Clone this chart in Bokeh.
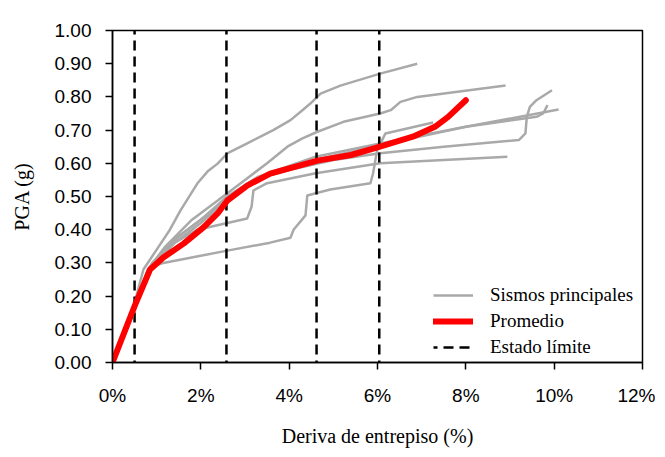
from bokeh.plotting import figure
from bokeh.models import (Range1d, FixedTicker, PrintfTickFormatter, Legend, LegendItem,
                          ColumnDataSource, LabelSet)
from bokeh.embed import file_html
from bokeh.resources import INLINE

# ---- data ----
gm_a_x = [0, 0.5, 0.7, 1.0, 1.3, 1.54, 1.92, 2.15, 2.38, 2.6, 3.05, 3.64, 4.03, 4.3, 4.48, 4.71, 5.16, 6.06, 6.9]
gm_a_y = [0, 0.18, 0.28, 0.34, 0.40, 0.458, 0.539, 0.575, 0.599, 0.63, 0.66, 0.70, 0.73, 0.76, 0.78, 0.81, 0.834, 0.87, 0.90]

gm_b_x = [0, 0.5, 0.8, 1.2, 1.8, 2.3, 2.6, 3.0, 3.5, 3.96, 4.3, 4.64, 5.23, 6.06, 6.3, 6.52, 6.9, 8.9]
gm_b_y = [0, 0.17, 0.28, 0.35, 0.43, 0.48, 0.51, 0.55, 0.60, 0.65, 0.675, 0.695, 0.725, 0.75, 0.76, 0.785, 0.80, 0.834]

gm_c_x = [0, 0.5, 0.85, 1.3, 2.0, 2.6, 3.2, 4.0, 5.0, 6.06, 7.5, 9.2, 9.35, 9.38, 9.45, 9.6, 9.95]
gm_c_y = [0, 0.17, 0.29, 0.36, 0.43, 0.50, 0.55, 0.58, 0.61, 0.63, 0.65, 0.67, 0.69, 0.74, 0.77, 0.79, 0.82]

gm_d_x = [0, 0.5, 0.85, 1.4, 2.0, 2.6, 3.0, 3.8, 4.6, 6.06, 8.0, 10.1]
gm_d_y = [0, 0.16, 0.28, 0.36, 0.42, 0.49, 0.53, 0.58, 0.61, 0.655, 0.71, 0.762]

gm_e_x = [0, 0.5, 0.9, 1.5, 2.2, 2.6, 3.3, 4.6, 6.06, 8.0, 9.6, 9.75, 9.85]
gm_e_y = [0, 0.17, 0.30, 0.38, 0.45, 0.50, 0.56, 0.62, 0.66, 0.71, 0.74, 0.75, 0.775]

gm_f_x = [0, 0.5, 0.86, 1.15, 2.6, 3.57, 4.03, 4.10, 4.37, 4.41, 4.93, 5.84, 5.9, 5.99, 6.18, 7.26]
gm_f_y = [0, 0.16, 0.286, 0.30, 0.337, 0.361, 0.376, 0.40, 0.443, 0.503, 0.521, 0.54, 0.57, 0.639, 0.69, 0.723]

gm_g_x = [0, 0.5, 0.9, 1.4, 1.92, 2.6, 3.05, 3.15, 3.19, 3.5, 4.6, 6.06, 8.94]
gm_g_y = [0, 0.16, 0.30, 0.36, 0.40, 0.42, 0.434, 0.47, 0.518, 0.54, 0.57, 0.60, 0.62]

avg_x = [0, 0.5, 0.85, 1.15, 1.61, 2.06, 2.38, 2.6, 3.05, 3.57, 4.64, 5.4, 6.0, 6.8, 7.3, 7.6, 8.0]
avg_y = [0, 0.17, 0.28, 0.316, 0.358, 0.407, 0.449, 0.488, 0.533, 0.569, 0.608, 0.625, 0.648, 0.68, 0.71, 0.74, 0.79]

limit_names = ["ND", "IO", "LS", "CP"]
limit_x = [0.5, 2.58, 4.62, 6.04]

x_ticks = [0, 2, 4, 6, 8, 10, 12]
y_ticks = [0, 0.1, 0.2, 0.3, 0.4, 0.5, 0.6, 0.7, 0.8, 0.9, 1.0]

gm_series = [(gm_a_x, gm_a_y), (gm_b_x, gm_b_y), (gm_c_x, gm_c_y), (gm_d_x, gm_d_y),
             (gm_e_x, gm_e_y), (gm_f_x, gm_f_y), (gm_g_x, gm_g_y)]

SERIF = "Liberation Serif"
SANS = "Liberation Sans"

p = figure(width=655, height=450, output_backend="svg", toolbar_location=None,
           x_range=Range1d(0, 12), y_range=Range1d(0, 1),
           min_border_left=112, min_border_right=13, min_border_top=30, min_border_bottom=88)

p.xgrid.visible = False
p.ygrid.visible = False
p.outline_line_color = "black"
p.outline_line_width = 1.5
p.background_fill_color = "white"
p.border_fill_color = "white"

for ax in (p.xaxis[0], p.yaxis[0]):
    ax.axis_line_color = "black"
    ax.axis_line_width = 1.5
    ax.major_tick_line_color = "black"
    ax.major_tick_line_width = 1.5
    ax.major_tick_in = 0
    ax.major_tick_out = 7
    ax.minor_tick_line_color = None
    ax.major_label_text_font = SANS
    ax.major_label_text_font_size = "19px"
    ax.major_label_text_color = "black"
    ax.axis_label_text_font = SERIF
    ax.axis_label_text_font_size = "20px"
    ax.axis_label_text_font_style = "normal"
    ax.axis_label_text_color = "black"

p.xaxis.ticker = FixedTicker(ticks=x_ticks)
p.xaxis.formatter = PrintfTickFormatter(format="%d%%")
p.xaxis.major_label_standoff = 15
p.xaxis.axis_label = "Deriva de entrepiso (%)"
p.xaxis.axis_label_standoff = 16

p.yaxis.ticker = FixedTicker(ticks=y_ticks)
p.yaxis.formatter = PrintfTickFormatter(format="%.2f")
p.yaxis.major_label_standoff = 14
p.yaxis.axis_label = "PGA (g)"
p.yaxis.axis_label_standoff = 19

gray_renderers = []
for gx, gy in gm_series:
    r = p.line(gx, gy, line_color="#a9a9a9", line_width=2.5, line_join="round")
    gray_renderers.append(r)

lim_src = ColumnDataSource(dict(x=limit_x, name=limit_names,
                                top=[1.0] * len(limit_x), bot=[0.0] * len(limit_x)))
seg = p.segment(x0="x", y0="top", x1="x", y1="bot", source=lim_src,
                line_color="black", line_width=2.5, line_dash="10 6", line_dash_offset=6)

red = p.line(avg_x, avg_y, line_color="#ff0000", line_width=6, line_cap="round", line_join="round")

labels = LabelSet(x="x", y="top", text="name", source=lim_src, y_offset=4,
                  text_align="center", text_baseline="alphabetic",
                  text_font=SERIF, text_font_size="19px", text_color="black")
p.add_layout(labels)

legend = Legend(items=[LegendItem(label="Sismos principales", renderers=[gray_renderers[0]]),
                       LegendItem(label="Promedio", renderers=[red]),
                       LegendItem(label="Estado límite", renderers=[seg])],
                location=(321, 4), border_line_color=None, background_fill_alpha=0,
                label_text_font=SERIF, label_text_font_size="19px", label_text_color="black",
                glyph_width=40, glyph_height=22, label_height=22, label_standoff=17,
                spacing=4, padding=6, margin=0)
p.add_layout(legend)

open("out.html", "w").write(file_html(p, INLINE))
